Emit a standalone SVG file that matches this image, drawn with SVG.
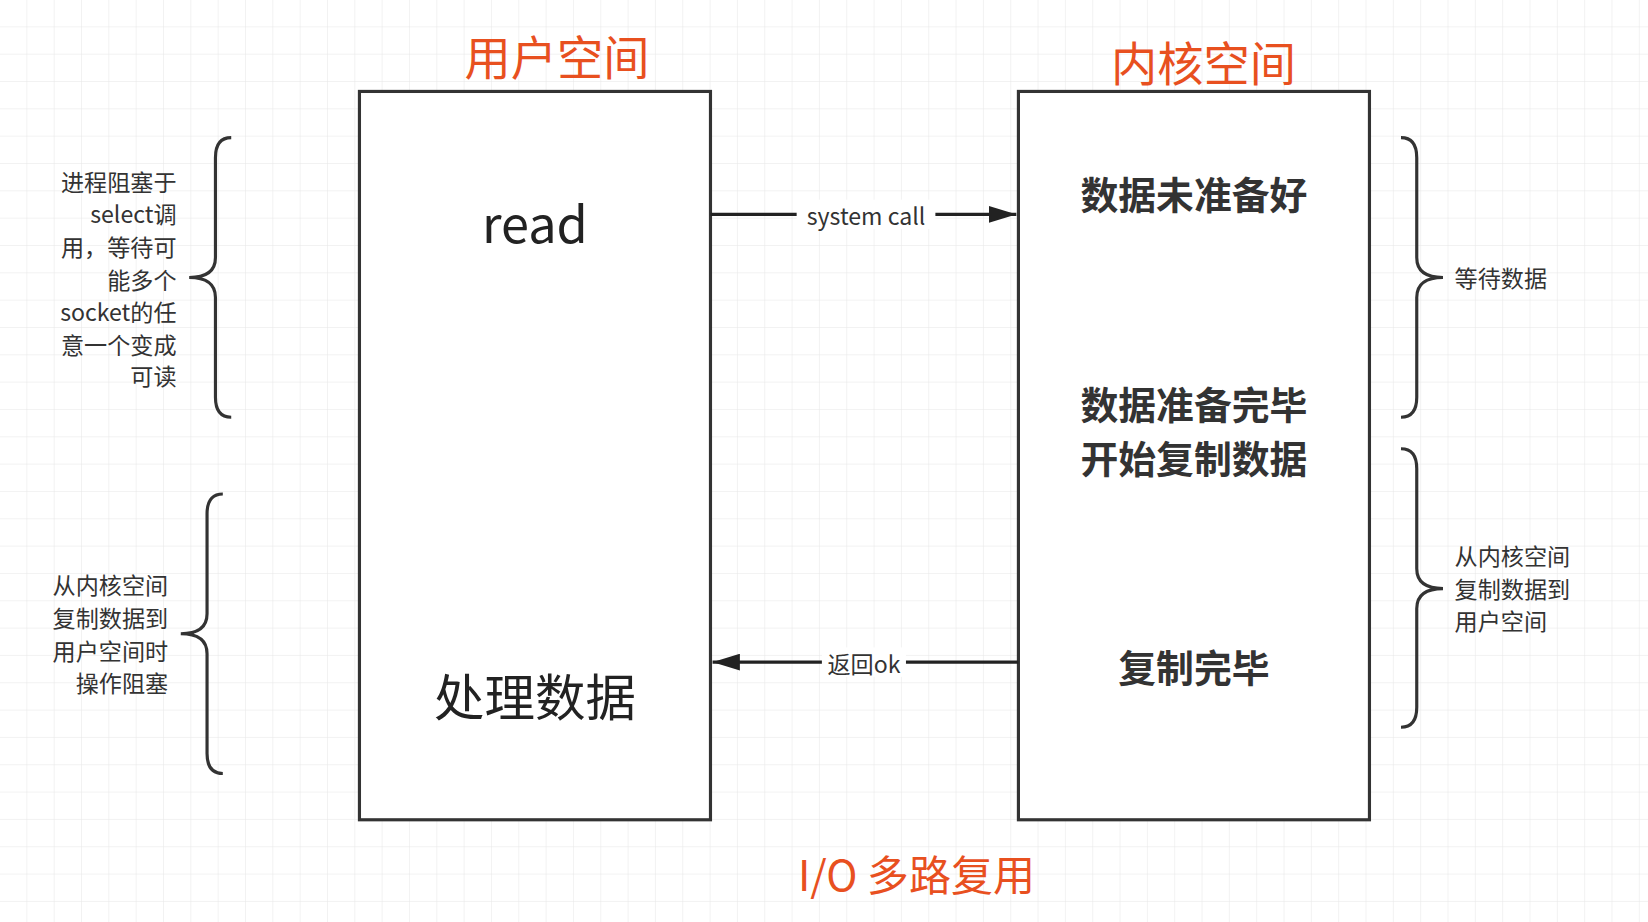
<svg xmlns="http://www.w3.org/2000/svg" width="1648" height="922" viewBox="0 0 1648 922">
<defs>
<pattern id="grid" width="27.33" height="27.33" patternUnits="userSpaceOnUse"><path d="M27.33 0V27.33H0" fill="none" stroke="#e6e6e6" stroke-width="1"/></pattern>
<marker id="ah" viewBox="0 0 10 10" refX="10" refY="5" markerWidth="7" markerHeight="7" markerUnits="userSpaceOnUse" orient="auto" style="overflow:visible"><path d="M0,0L10,5L0,10Z" fill="#222"/></marker>
<marker id="a" viewBox="0 0 10 10" refX="10" refY="5" markerWidth="26" markerHeight="16" orient="auto" markerUnits="userSpaceOnUse" preserveAspectRatio="none"><path d="M0,0L10,5L0,10Z" fill="#222"/></marker>
</defs>
<style>
.box{fill:#fff;stroke:#333;stroke-width:3}
.t{font-family:"Noto Sans CJK SC","Noto Sans",sans-serif;dominant-baseline:central;fill:#222}
.red{fill:#e8501f;font-size:44px;text-anchor:middle}
.big{font-size:48px;text-anchor:middle}
.bold{font-size:36px;font-weight:bold;text-anchor:middle;fill:#333}
.s{font-size:22px;fill:#333}
.r{text-anchor:end}
.br{fill:none;stroke:#333;stroke-width:3}
.ln{stroke:#222;stroke-width:3;fill:none}
</style>
<rect width="1648" height="922" fill="#fff"/>
<rect width="1648" height="922" fill="url(#grid)"/>
<g transform="scale(1.051)">
<g id="titles">
<text class="t red" x="530" y="52">用户空间</text>
<text class="t red" x="1145" y="58">内核空间</text>
<text class="t red" x="872" y="830" style="font-size:40px">I/O 多路复用</text>
</g>
<g id="user"><rect class="box" x="342" y="87" width="334" height="693"/>
<text class="t big" x="509" y="210">read</text>
<text class="t big" x="509" y="660">处理数据</text></g>
<g id="kernel"><rect class="box" x="969" y="87" width="334" height="693"/>
<text class="t bold" x="1136" y="183">数据未准备好</text>
<text class="t bold" x="1136" y="383">数据准备完毕</text>
<text class="t bold" x="1136" y="434">开始复制数据</text>
<text class="t bold" x="1136" y="633">复制完毕</text></g>
<g id="connectors">
<path class="ln" d="M676,204H967" marker-end="url(#a)"/>
<path class="ln" d="M969,630H678" marker-end="url(#a)"/>
<rect x="758" y="190" width="132" height="28" fill="#fff"/>
<text class="t s" x="824" y="205" text-anchor="middle">system call</text>
<rect x="782" y="616" width="80" height="28" fill="#fff"/>
<text class="t s" x="822" y="631" text-anchor="middle">返回ok</text>
</g>
<g id="braces">
<path class="br" d="M220,131Q205,131 205,150L205,245Q205,264 180,264Q205,264 205,283L205,378Q205,397 220,397"/>
<path class="br" d="M212,470Q197,470 197,489L197,584Q197,603 172,603Q197,603 197,622L197,717Q197,736 212,736"/>
<path class="br" d="M1333,131Q1348,131 1348,150L1348,245Q1348,264 1373,264Q1348,264 1348,283L1348,378Q1348,397 1333,397"/>
<path class="br" d="M1333,427Q1348,427 1348,446L1348,541Q1348,560 1373,560Q1348,560 1348,579L1348,673Q1348,692 1333,692"/>
</g>
<g id="notes">
<text class="t s r" x="168" y="172">进程阻塞于</text>
<text class="t s r" x="168" y="203">select调</text>
<text class="t s r" x="168" y="234">用，等待可</text>
<text class="t s r" x="168" y="265">能多个</text>
<text class="t s r" x="168" y="296">socket的任</text>
<text class="t s r" x="168" y="327">意一个变成</text>
<text class="t s r" x="168" y="357">可读</text>
<text class="t s r" x="160" y="556">从内核空间</text>
<text class="t s r" x="160" y="587">复制数据到</text>
<text class="t s r" x="160" y="618">用户空间时</text>
<text class="t s r" x="160" y="649">操作阻塞</text>
<text class="t s" x="1384" y="264">等待数据</text>
<text class="t s" x="1384" y="528">从内核空间</text>
<text class="t s" x="1384" y="559">复制数据到</text>
<text class="t s" x="1384" y="590">用户空间</text>
</g>
</g>
</svg>
